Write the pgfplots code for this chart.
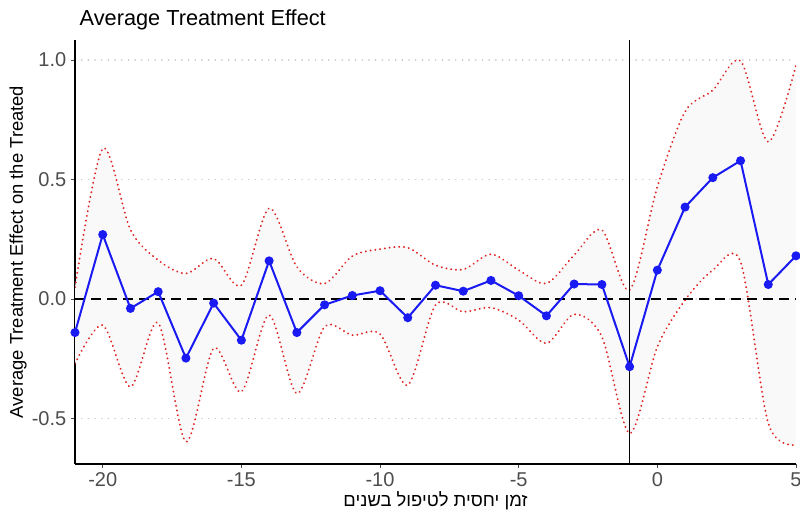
\documentclass[border=0pt]{standalone}
\usepackage{fontspec}
\setmainfont{Liberation Sans}
\newfontfamily\hebfont[Script=Hebrew]{Liberation Sans}
\TeXXeTstate=1
\usepackage{pgfplots}
\pgfplotsset{compat=1.18}
\usepackage{pgfplotstable}
\usepgfplotslibrary{fillbetween}
\definecolor{tickgrey}{HTML}{4D4D4D}
\definecolor{ribbon}{HTML}{F9F9F9}
\definecolor{ciRed}{HTML}{E02424}
\definecolor{estBlue}{HTML}{1A1AF2}

\pgfplotstableread{
x mean lower upper
-21 -0.140 -0.270 0.050
-20 0.270 -0.109 0.630
-19 -0.039 -0.367 0.290
-18 0.031 -0.100 0.163
-17 -0.247 -0.597 0.107
-16 -0.017 -0.206 0.170
-15 -0.172 -0.388 0.058
-14 0.160 -0.067 0.380
-13 -0.140 -0.395 0.135
-12 -0.024 -0.116 0.065
-11 0.015 -0.151 0.180
-10 0.035 -0.146 0.209
-9 -0.078 -0.360 0.215
-8 0.058 -0.025 0.142
-7 0.033 -0.053 0.124
-6 0.078 -0.036 0.188
-5 0.014 -0.088 0.121
-4 -0.070 -0.185 0.066
-3 0.063 -0.064 0.184
-2 0.061 -0.158 0.289
-1 -0.283 -0.562 0.038
0 0.121 -0.200 0.470
1 0.385 -0.004 0.784
2 0.508 0.121 0.874
3 0.579 0.156 0.997
4 0.061 -0.520 0.658
5 0.181 -0.610 0.979
}\atetable

\begin{document}
\begin{tikzpicture}
\begin{axis}[
  at={(0,0)}, anchor=south west,
  scale only axis,
  width=540.75pt, height=318pt,
  xmin=-21, xmax=5, ymin=-0.69, ymax=1.084,
  axis x line*=bottom, axis y line*=left,
  axis line style={black, line width=1.1pt, -},
  xtick={-20,-15,-10,-5,0,5},
  xticklabels={-20,-15,-10,-5,0,5},
  ytick={-0.5,0,0.5,1},
  yticklabels={-0.5,0.0,0.5,1.0},
  tick align=outside,
  major tick length=3pt,
  tick style={tickgrey, line width=0.7pt},
  ticklabel style={font=\fontsize{15}{15}\selectfont, text=tickgrey},
  ymajorgrids,
  grid style={gray!45, line width=1.3pt, line cap=round, dash pattern=on 0.01pt off 5pt},
  title={Average Treatment Effect},
  every axis title/.style={at={(axis description cs:0,1)}, anchor=base west, yshift=10.5pt, font=\fontsize{16.3}{16.3}\selectfont},
  ylabel={Average Treatment Effect on the Treated},
  every axis y label/.style={at={(axis description cs:0,0.5)}, xshift=-42.75pt, rotate=90, anchor=center, font=\fontsize{13.8}{13.8}\selectfont},
  xlabel={\hebfont\beginR זמן יחסית לטיפול בשנים\endR},
  every axis x label/.style={at={(axis description cs:0.5,0)}, anchor=center, yshift=-27.5pt, font=\fontsize{13.8}{13.8}\selectfont},
  clip=true,
]
\addplot[draw=none, smooth, tension=0.5, name path=up, forget plot] table[x=x, y=upper] {\atetable};
\addplot[draw=none, smooth, tension=0.5, name path=lo, forget plot] table[x=x, y=lower] {\atetable};
\addplot[ribbon, forget plot] fill between[of=up and lo];
\addplot[ciRed, smooth, tension=0.5, line width=1.6pt, line cap=round, dash pattern=on 0.01pt off 3.6pt] table[x=x, y=upper] {\atetable};
\addplot[ciRed, smooth, tension=0.5, line width=1.6pt, line cap=round, dash pattern=on 0.01pt off 3.6pt] table[x=x, y=lower] {\atetable};
\addplot[black, line width=1.3pt, dash pattern=on 7.5pt off 4.5pt] coordinates {(-21,0) (5,0)};
\addplot[black, line width=1.2pt] coordinates {(-1,-0.69) (-1,1.084)};
\addplot[estBlue, line width=1.5pt, mark=*, mark size=2.6pt, mark options={fill=estBlue, draw=estBlue}] table[x=x, y=mean] {\atetable};
\end{axis}
\pgfresetboundingbox
\useasboundingbox (-56.25pt,-37.5pt) rectangle (543.75pt,348pt);
\end{tikzpicture}
\end{document}
